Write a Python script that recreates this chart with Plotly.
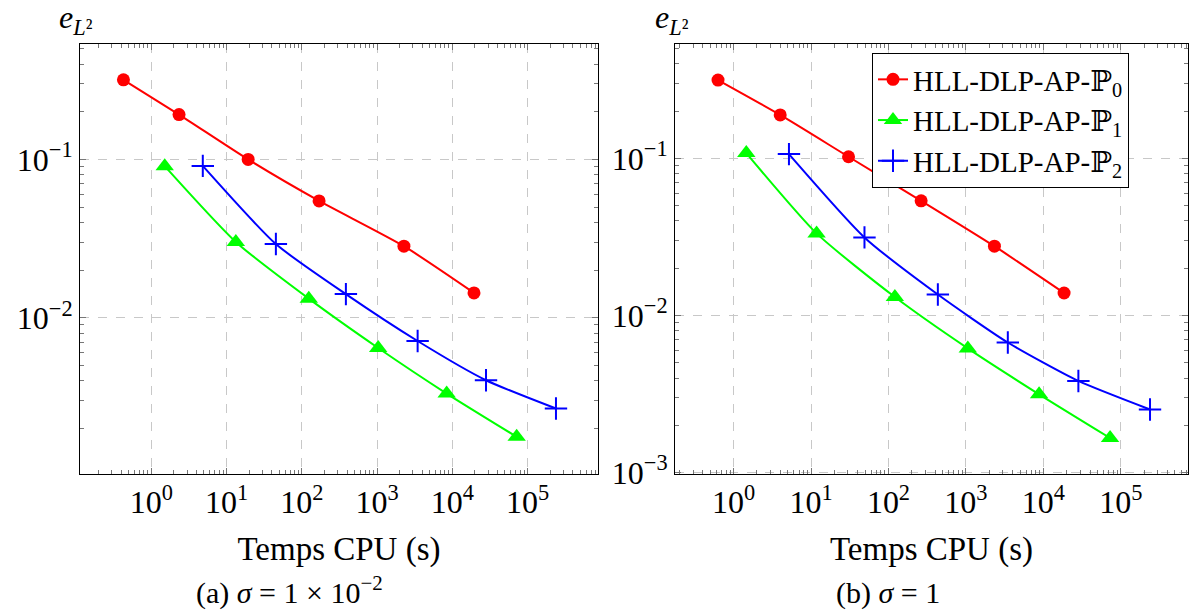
import plotly.graph_objects as go
from plotly.subplots import make_subplots

# temps CPU (s) et erreur L2
# (a) sigma = 1e-2
cpu_p0_a = [0.427, 2.34, 19.4, 170, 2280, 19450]
err_p0_a = [0.318, 0.192, 0.100, 0.0547, 0.0283, 0.01435]
cpu_p1_a = [1.51, 13.3, 124, 1037, 8430, 71800]
err_p1_a = [0.0907, 0.0301, 0.0132, 0.00644, 0.00332, 0.00177]
cpu_p2_a = [4.84, 45.3, 386, 3467, 28100, 239000]
err_p2_a = [0.0910, 0.0292, 0.0141, 0.00713, 0.00403, 0.00267]

# (b) sigma = 1
cpu_p0_b = [0.63, 4.0, 30.5, 264, 2333, 18500]
err_p0_b = [0.315, 0.189, 0.1024, 0.0537, 0.0276, 0.0139]
cpu_p1_b = [1.46, 11.8, 121, 1058, 8800, 72600]
err_p1_b = [0.108, 0.0333, 0.0131, 0.00617, 0.00315, 0.00166]
cpu_p2_b = [5.19, 49, 434, 3474, 28300, 238000]
err_p2_b = [0.1065, 0.0314, 0.0136, 0.00673, 0.00383, 0.00252]

names = ['HLL-DLP-AP-ℙ<sub>0</sub>', 'HLL-DLP-AP-ℙ<sub>1</sub>', 'HLL-DLP-AP-ℙ<sub>2</sub>']
x_exps = [0, 1, 2, 3, 4, 5]
y_exps = [-3, -2, -1]

FONT = 'Liberation Serif, DejaVu Serif, serif'

x_tickvals = [10 ** e for e in x_exps]
x_ticktext = ['10<sup>%d</sup>' % e for e in x_exps]
y_tickvals = [10.0 ** e for e in y_exps]
y_ticktext = ['10<sup>−%d</sup>' % -e for e in y_exps]
x_minor = [m * 10.0 ** e for e in range(-1, 6) for m in range(2, 10)]
y_minor = [m * 10.0 ** e for e in range(-4, 0) for m in range(2, 10)]

styles = [
    dict(color='#ff0000', symbol='circle', size=13, line=dict(width=0)),
    dict(color='#00ff00', symbol='triangle-up', size=16, line=dict(width=0)),
    dict(color='#0000ff', symbol='cross-thin', size=16, line=dict(width=2, color='#0000ff')),
]

fig = make_subplots(rows=1, cols=2)

panels = [
    (1, [(cpu_p0_a, err_p0_a), (cpu_p1_a, err_p1_a), (cpu_p2_a, err_p2_a)], False),
    (2, [(cpu_p0_b, err_p0_b), (cpu_p1_b, err_p1_b), (cpu_p2_b, err_p2_b)], True),
]
for col, series, show in panels:
    for (xs, ys), name, st in zip(series, names, styles):
        fig.add_trace(go.Scatter(
            x=xs, y=ys, name=name, mode='lines+markers',
            line=dict(color=st['color'], width=2, shape='spline', smoothing=0.6),
            marker=st, showlegend=show,
        ), row=1, col=col)

axis_common = dict(
    type='log', showline=True, linecolor='black', linewidth=1, mirror='allticks',
    ticks='inside', ticklen=6, tickcolor='#777777', tickwidth=1,
    showgrid=True, gridcolor='#c8c8c8', griddash='dash', gridwidth=1,
    zeroline=False, automargin=False,
    tickfont=dict(family=FONT, size=32, color='black'),
)

fig.update_xaxes(**axis_common, tickmode='array', tickvals=x_tickvals, ticktext=x_ticktext,
                 minor=dict(tickmode='array', tickvals=x_minor, ticks='inside', ticklen=4,
                            tickcolor='#777777', showgrid=False),
                 title=dict(text='Temps CPU (s)', font=dict(family=FONT, size=33, color='black'),
                            standoff=17))
fig.update_yaxes(**axis_common, tickmode='array', tickvals=y_tickvals, ticktext=y_ticktext,
                 minor=dict(tickmode='array', tickvals=y_minor, ticks='inside', ticklen=4,
                            tickcolor='#777777', showgrid=False))

fig.update_xaxes(range=[-0.947, 5.937], domain=[80 / 1192, 598 / 1192], row=1, col=1)
fig.update_yaxes(range=[-2.987, -0.271], domain=[1 - 474 / 615, 1 - 44 / 615], row=1, col=1)
fig.update_xaxes(range=[-0.756, 5.867], domain=[675 / 1192, 1188 / 1192], row=1, col=2)
fig.update_yaxes(range=[-3.009, -0.272], domain=[1 - 474 / 615, 1 - 44 / 615], row=1, col=2)

ann_font = dict(family=FONT, size=32, color='black')
for xc in [76, 672]:
    fig.add_annotation(text='<i>e</i><sub><i>L</i>²</sub>', x=xc / 1192, y=1 - 20 / 615,
                       xref='paper', yref='paper', xanchor='center', yanchor='middle',
                       showarrow=False, font=ann_font)
cap_font = dict(family=FONT, size=30, color='black')
fig.add_annotation(text='(a) <i>σ</i> = 1 × 10<sup>−2</sup>', x=289 / 1192, y=3 / 615,
                   xref='paper', yref='paper', xanchor='center', yanchor='bottom', showarrow=False,
                   font=cap_font)
fig.add_annotation(text='(b) <i>σ</i> = 1', x=888 / 1192, y=3 / 615,
                   xref='paper', yref='paper', xanchor='center', yanchor='bottom', showarrow=False,
                   font=cap_font)

fig.update_layout(
    width=1192, height=615,
    margin=dict(l=0, r=0, t=0, b=0),
    paper_bgcolor='white', plot_bgcolor='white',
    font=dict(family=FONT, color='black'),
    legend=dict(x=872 / 1192, y=1 - 53 / 615, xanchor='left', yanchor='top',
                bgcolor='white', bordercolor='black', borderwidth=1,
                font=dict(family=FONT, size=29, color='black'),
                tracegroupgap=0),
)

fig.write_html('out.html', config={'displayModeBar': False},
               post_script="document.body.style.margin='0px';")
